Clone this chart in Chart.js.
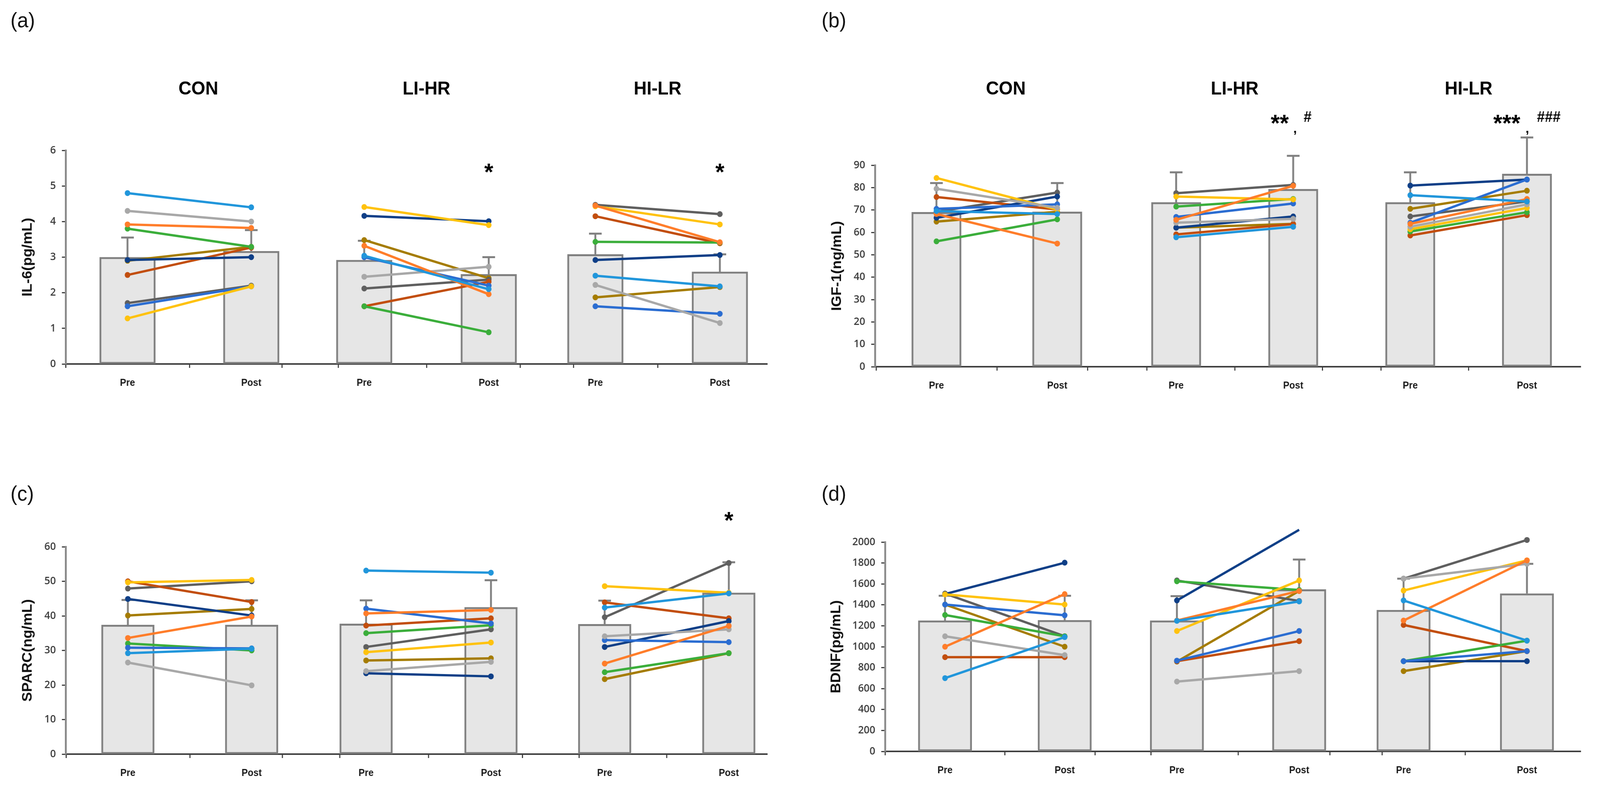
<!DOCTYPE html>
<html><head><meta charset="utf-8">
<script src="https://cdn.jsdelivr.net/npm/chart.js@4.4.1/dist/chart.umd.min.js"></script>
<style>
html,body{margin:0;padding:0;background:#fff;overflow:hidden;}
#page{width:4292px;height:2028px;position:absolute;left:0;top:0;transform-origin:0 0;background:#fff;font-family:"Liberation Sans",Arial,sans-serif;}
canvas{position:absolute;}
.lbl{position:absolute;font-size:54px;color:#111;font-family:"Liberation Sans",Arial,sans-serif;}
</style></head><body>
<div id="page">
<div class="lbl" style="left:28px;top:20px">(a)</div>
<div class="lbl" style="left:2204px;top:20px">(b)</div>
<div class="lbl" style="left:28px;top:1232px">(c)</div>
<div class="lbl" style="left:2204px;top:1232px">(d)</div>
<canvas id="cA"></canvas>
<canvas id="cB"></canvas>
<canvas id="cC"></canvas>
<canvas id="cD"></canvas>
</div>
<script>
// fit the 4292x2028 design into the actual window width
(function () {
  const sx = Math.min(1, window.innerWidth / 4292);
  const sy = Math.min(1, window.innerHeight / 2028);
  document.getElementById('page').style.transform = 'scale(' + sx + ',' + sy + ')';
})();

// ---------- categories ----------
const GROUPS = ['CON', 'LI-HR', 'HI-LR'];
const TIMEPOINTS = ['Pre', 'Post'];
// subject colour order: sky, orange, gray, yellow, blue, green, navy, rust, dark gray, olive
const SUBJECT_COLORS = ['#2196DB', '#FF7D2A', '#A8A8A8', '#FFC20E', '#2B6DD1', '#3BAE3B', '#0F3F87', '#C24E0E', '#5F5F5F', '#A57C00'];

// ---------- (a) IL-6 ----------
const il6_CON_pre  = [4.80, 3.92, 4.30, 1.28, 1.62, 3.80, 2.92, 2.50, 1.71, 2.90];
const il6_CON_post = [4.40, 3.82, 4.00, 2.18, 2.18, 3.29, 3.00, 3.27, 2.20, 3.29];
const il6_LI_pre   = [3.04, 3.32, 2.45, 4.41, 3.00, 1.62, 4.16, 1.62, 2.12, 3.48];
const il6_LI_post  = [2.10, 1.96, 2.73, 3.90, 2.20, 0.89, 4.01, 2.31, 2.37, 2.41];
const il6_HI_pre   = [2.48, 4.45, 2.22, 4.43, 1.62, 3.43, 2.92, 4.15, 4.47, 1.87];
const il6_HI_post  = [2.18, 3.42, 1.15, 3.92, 1.41, 3.41, 3.06, 3.39, 4.21, 2.16];
const il6_mean = [3.00, 3.17, 2.92, 2.52, 3.08, 2.59];
const il6_sd   = [0.55, 0.59, 0.54, 0.48, 0.58, 0.49];
const il6_ticks = [0, 6, 1];

// ---------- (b) IGF-1 ----------
const igf_CON_pre  = [69.5, 68.2, 79.5, 84.3, 70.5, 56.0, 66.5, 75.8, 69.2, 64.8];
const igf_CON_post = [68.2, 55.0, 71.0, 70.2, 72.5, 65.8, 76.0, 70.2, 77.8, 69.2];
const igf_LI_pre   = [57.8, 65.6, 64.3, 76.0, 66.9, 71.5, 62.1, 59.1, 77.5, 62.1];
const igf_LI_post  = [62.5, 80.8, 66.0, 74.7, 72.9, 74.9, 67.1, 63.7, 81.2, 63.8];
const igf_HI_pre   = [76.6, 63.8, 62.5, 61.4, 64.3, 60.4, 80.9, 58.6, 67.1, 70.5];
const igf_HI_post  = [73.8, 74.9, 72.5, 70.9, 83.6, 69.0, 83.6, 67.7, 73.8, 78.6];
const igf_mean = [69.0, 69.2, 73.4, 79.3, 73.4, 86.1];
const igf_sd   = [13.0, 12.8, 13.4, 14.9, 13.4, 16.3];
const igf_ticks = [0, 90, 10];

// ---------- (c) SPARC ----------
const sparc_CON_pre  = [29.2, 33.6, 26.5, 49.7, 30.8, 32.0, 44.9, 50.0, 47.9, 40.1];
const sparc_CON_post = [30.5, 39.8, 19.9, 50.4, 30.6, 30.0, 40.1, 44.0, 50.0, 42.0];
const sparc_LI_pre   = [53.1, 40.7, 24.0, 29.5, 42.1, 35.0, 23.4, 37.2, 31.0, 27.1];
const sparc_LI_post  = [52.5, 41.7, 26.7, 32.3, 37.8, 37.3, 22.5, 39.3, 36.1, 27.7];
const sparc_HI_pre   = [42.4, 26.2, 34.1, 48.6, 33.0, 23.7, 31.0, 43.9, 39.6, 21.7];
const sparc_HI_post  = [46.5, 37.1, 36.1, 46.7, 32.4, 29.2, 38.5, 39.3, 55.3, 29.2];
const sparc_mean = [37.4, 37.4, 37.7, 42.5, 37.6, 46.7];
const sparc_sd   = [7.2, 7.1, 6.8, 7.8, 6.8, 8.8];
const sparc_ticks = [0, 60, 10];

// ---------- (d) BDNF ----------
const bdnf_CON_pre  = [700, 1000, 1100, 1500, 1403, 1303, 1503, 900, 1508, 1403];
const bdnf_CON_post = [1092, 1503, 920, 1403, 1300, 1100, 1803, 900, 1100, 1000];
const bdnf_LI_pre   = [1247, 1250, 667, 1150, 867, 1625, 1442, 862, 1633, 858];
const bdnf_LI_post  = [1433, 1533, 767, 1633, 1150, 1542, 2117, 1053, 1437, 1533];
const bdnf_HI_pre   = [1442, 1250, 1650, 1537, 862, 862, 862, 1208, 1650, 767];
const bdnf_HI_post  = [1058, 1825, 1792, 1825, 958, 1058, 862, 958, 2020, 958];
const bdnf_mean = [1250, 1253, 1250, 1547, 1350, 1508];
const bdnf_sd   = [237, 234, 233, 286, 300, 284];
const bdnf_ticks = [0, 2000, 200];

// significance marks: [text, bar index, y value, optional second text]
const il6_marks   = [['*', 3, 5.56], ['*', 5, 5.56]];
const sparc_marks = [['*', 5, 69.4]];
const igf_marks   = [['**', 3, 111.5, '#'], ['***', 5, 111.5, '###']];

// ---------- layout (not data) ----------
const PANELS = [
  {id:'cA', box:{x:53, y:150, w:2017, h:860}, padTop:235, padRight:12, yAxisW:123, xAxisH:78, xMax:1882,
   xPos:[166,498,801,1135,1421,1755], sep:[662,1303], barW:150, titles:true,
   pre:[il6_CON_pre, il6_LI_pre, il6_HI_pre], post:[il6_CON_post, il6_LI_post, il6_HI_post],
   mean:il6_mean, sd:il6_sd, ticks:il6_ticks, yTitle:'IL-6(pg/mL)', marks:il6_marks, capW:17},
  {id:'cB', box:{x:2224, y:150, w:2028, h:867}, padTop:273, padRight:12, yAxisW:123, xAxisH:78, xMax:1893,
   xPos:[165,489,808,1122,1436,1749], sep:[651,1278], barW:133, titles:true,
   pre:[igf_CON_pre, igf_LI_pre, igf_HI_pre], post:[igf_CON_post, igf_LI_post, igf_HI_post],
   mean:igf_mean, sd:igf_sd, ticks:igf_ticks, yTitle:'IGF-1(ng/mL)', marks:igf_marks, capW:17},
  {id:'cC', box:{x:53, y:1240, w:2017, h:769}, padTop:160, padRight:12, yAxisW:123, xAxisH:78, xMax:1882,
   xPos:[167,499,806,1141,1446,1779], sep:[664,1309], barW:142, titles:false,
   pre:[sparc_CON_pre, sparc_LI_pre, sparc_HI_pre], post:[sparc_CON_post, sparc_LI_post, sparc_HI_post],
   mean:sparc_mean, sd:sparc_sd, ticks:sparc_ticks, yTitle:'SPARC(ng/mL)', marks:sparc_marks, capW:17},
  {id:'cD', box:{x:2222, y:1240, w:2030, h:762}, padTop:148, padRight:12, yAxisW:152, xAxisH:78, xMax:1866,
   xPos:[161,482,783,1111,1391,1722], sep:[644,1276], barW:144, titles:false,
   pre:[bdnf_CON_pre, bdnf_LI_pre, bdnf_HI_pre], post:[bdnf_CON_post, bdnf_LI_post, bdnf_HI_post],
   mean:bdnf_mean, sd:bdnf_sd, ticks:bdnf_ticks, yTitle:'BDNF(pg/mL)', marks:[], capW:17}
];
const TITLE_SHIFT = [24, 0, 0];

function buildPanel(P) {
  const cv = document.getElementById(P.id);
  cv.width = P.box.w; cv.height = P.box.h;
  cv.style.left = P.box.x + 'px'; cv.style.top = P.box.y + 'px';
  cv.style.width = P.box.w + 'px'; cv.style.height = P.box.h + 'px';
  const xs = P.xPos;
  const datasets = [{
    type: 'bar', order: 10, clip: false,
    data: P.mean.map((m, i) => ({x: xs[i], y: m})),
    backgroundColor: '#e6e6e6', borderColor: '#808080', borderWidth: 5,
    borderSkipped: false, barThickness: P.barW
  }];
  for (let s = 0; s < SUBJECT_COLORS.length; s++) {
    const c = SUBJECT_COLORS[s];
    const vals = [];
    for (let g = 0; g < GROUPS.length; g++) { vals.push(P.pre[g][s], P.post[g][s]); }
    datasets.push({
      type: 'line', order: 1, clip: false,
      data: vals.map((v, i) => ({x: xs[i], y: v})),
      borderColor: c, backgroundColor: c, pointBackgroundColor: c, pointBorderColor: c,
      pointRadius: 7.5, pointBorderWidth: 0, borderWidth: 6, tension: 0,
      segment: {borderColor: ctx => (ctx.p0DataIndex % 2 === 1 ? 'rgba(0,0,0,0)' : c)}
    });
  }
  const tickPos = xs.concat(P.sep).sort((a, b) => a - b);
  const deco = {
    id: 'deco_' + P.id,
    afterDatasetDraw(chart, args) {
      if (args.meta.type !== 'bar') return;
      const ctx = chart.ctx, xS = chart.scales.x, yS = chart.scales.y;
      ctx.save();
      ctx.strokeStyle = '#808080'; ctx.lineWidth = 5; ctx.lineCap = 'butt';
      P.mean.forEach((m, i) => {
        const x = xS.getPixelForValue(xs[i]);
        const y0 = yS.getPixelForValue(m), y1 = yS.getPixelForValue(m + P.sd[i]);
        ctx.beginPath(); ctx.moveTo(x, y0); ctx.lineTo(x, y1);
        ctx.moveTo(x - P.capW, y1); ctx.lineTo(x + P.capW, y1); ctx.stroke();
      });
      ctx.restore();
    },
    afterDraw(chart) {
      const ctx = chart.ctx, xS = chart.scales.x, yS = chart.scales.y;
      ctx.save();
      ctx.fillStyle = '#000';
      ctx.textAlign = 'center'; ctx.textBaseline = 'alphabetic';
      if (P.titles) {
        ctx.font = 'bold 48px "Liberation Sans", Arial, sans-serif';
        GROUPS.forEach((g, k) => {
          const cx = (xS.getPixelForValue(xs[2 * k]) + xS.getPixelForValue(xs[2 * k + 1])) / 2 + TITLE_SHIFT[k];
          ctx.fillText(g, cx, 92);
        });
      }
      P.marks.forEach(mk => {
        const x = xS.getPixelForValue(xs[mk[1]]);
        const y = yS.getPixelForValue(mk[2]);
        if (mk.length === 3) {
          ctx.font = 'bold 62px "Liberation Sans", Arial, sans-serif';
          ctx.fillText(mk[0], x, y + 36);
        } else {
          const two = mk[0].length === 2;
          ctx.font = 'bold 62px "Liberation Sans", Arial, sans-serif';
          ctx.fillText(mk[0], x + (two ? -36 : -54), y + 36);
          ctx.font = 'bold 34px "Liberation Sans", Arial, sans-serif';
          ctx.fillText(',', x + (two ? 5 : 1), y + 40);
          ctx.font = 'italic bold 38px "Liberation Sans", Arial, sans-serif';
          ctx.fillText(mk[3], x + (two ? 38 : 58), y + 12);
        }
      });
      ctx.restore();
    }
  };
  new Chart(cv, {
    type: 'bar',
    data: {datasets},
    plugins: [deco],
    options: {
      responsive: false, animation: false, devicePixelRatio: 1,
      layout: {padding: {top: P.padTop, right: P.padRight, left: 0, bottom: 0}, autoPadding: false},
      plugins: {legend: {display: false}, tooltip: {enabled: false}},
      scales: {
        x: {
          type: 'linear', min: 0, max: P.xMax, offset: false,
          afterBuildTicks: s => { s.ticks = tickPos.map(v => ({value: v})); },
          afterFit: s => { s.height = P.xAxisH; },
          ticks: {
            autoSkip: false, maxRotation: 0, minRotation: 0, padding: 24, color: '#1a1a1a',
            font: {family: '"Liberation Sans", Arial, sans-serif', size: 25, weight: 'bold'},
            callback: v => { const i = xs.indexOf(v); return i < 0 ? '' : TIMEPOINTS[i % 2]; }
          },
          grid: {drawOnChartArea: false, drawTicks: true, tickLength: 10, tickColor: '#404040', tickWidth: 3},
          border: {display: true, color: '#404040', width: 4}
        },
        y: {
          min: P.ticks[0], max: P.ticks[1],
          afterFit: s => { s.width = P.yAxisW; },
          ticks: {stepSize: P.ticks[2], padding: 16, color: '#3a3a3a',
                  font: {family: '"Open Sans", sans-serif', size: 27, weight: '600'},
                  callback: v => String(v)},
          grid: {drawOnChartArea: false, drawTicks: true, tickLength: 10, tickColor: '#404040', tickWidth: 3},
          border: {display: true, color: '#8a8a8a', width: 5},
          title: {display: true, text: P.yTitle, color: '#111', padding: 0,
                  font: {family: '"Liberation Sans", Arial, sans-serif', size: 37, weight: 'bold'}}
        }
      }
    }
  });
}
PANELS.forEach(buildPanel);
</script>
</body></html>
